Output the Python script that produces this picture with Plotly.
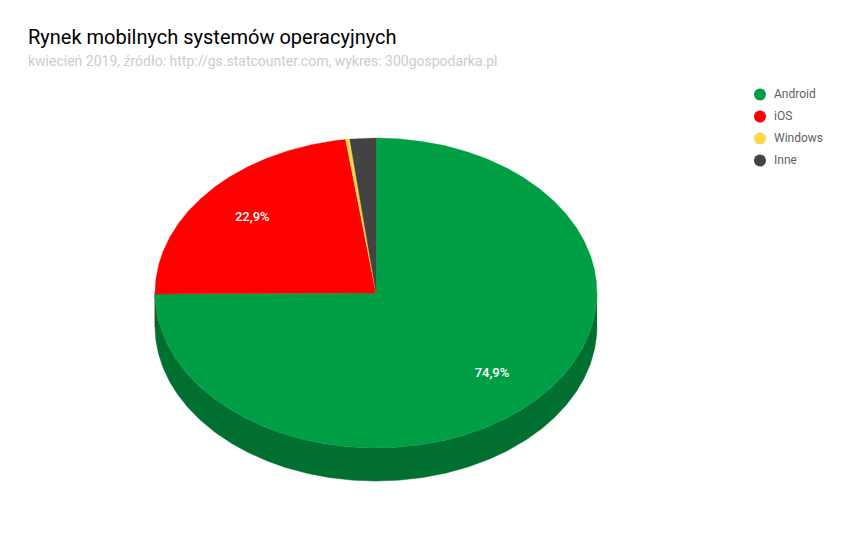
import numpy as np
import plotly.graph_objects as go

# market share, April 2019
labels = ['Android', 'iOS', 'Windows', 'Inne']
shares = [74.9, 22.9, 0.3, 1.9]
colors = ['#009f45', '#ff0000', '#ffd84a', '#434343']
side_colors = ['#006f30', '#b20000', '#b29728', '#2f2f2f']

# plot area works in page pixels, ellipse stands in for the tilted pie
cx, cy = 376, 293
rx, ry = 221, 155
depth = 33
font = 'Roboto'
# page body has an 8px margin, the axis ranges cancel it
page_margin = 8


def arc(start, end, drop=0):
    # angles in degrees, clockwise from 12 o'clock
    t = np.radians(np.linspace(start, end, max(int(abs(end - start) * 2), 2)))
    return cx + rx * np.sin(t), cy - ry * np.cos(t) + drop


fig = go.Figure()

edges = np.concatenate([[0], np.cumsum(shares)]) * 3.6

# side wall, only the front half of the rim shows
for i, label in enumerate(labels):
    start, end = max(edges[i], 90), min(edges[i + 1], 270)
    if end <= start:
        continue
    x_top, y_top = arc(start, end)
    x_low, y_low = arc(start, end, depth)
    fig.add_trace(go.Scatter(
        x=np.concatenate([x_top, x_low[::-1]]),
        y=np.concatenate([y_top, y_low[::-1]]),
        mode='lines',
        fill='toself',
        fillcolor=side_colors[i],
        line=dict(color=side_colors[i], width=0.5),
        hoverinfo='skip',
        showlegend=False
    ))

# top face
for i, label in enumerate(labels):
    x_arc, y_arc = arc(edges[i], edges[i + 1])
    fig.add_trace(go.Scatter(
        x=np.concatenate([[cx], x_arc, [cx]]),
        y=np.concatenate([[cy], y_arc, [cy]]),
        mode='lines',
        fill='toself',
        fillcolor=colors[i],
        line=dict(color=colors[i], width=0.3),
        name=label,
        text=f'{label}: {shares[i]}%'.replace('.', ','),
        hoverinfo='text',
        showlegend=False
    ))

# slice labels, small slices have none
mid = np.radians((edges[:-1] + edges[1:]) / 2)
big = [i for i, s in enumerate(shares) if s > 5]
fig.add_trace(go.Scatter(
    x=[cx + 0.74 * rx * np.sin(mid[i]) for i in big],
    y=[cy - 0.74 * ry * np.cos(mid[i]) for i in big],
    mode='text',
    text=[f'{shares[i]}%'.replace('.', ',') for i in big],
    textfont=dict(family=font, size=13, color='white', weight=500),
    hoverinfo='skip',
    showlegend=False
))

# legend
fig.add_trace(go.Scatter(
    x=[760] * len(labels),
    y=[94.5 + 22 * i for i in range(len(labels))],
    mode='markers',
    marker=dict(size=12, color=colors),
    hoverinfo='skip',
    showlegend=False
))
fig.add_trace(go.Scatter(
    x=[774] * len(labels),
    y=[95 + 22 * i for i in range(len(labels))],
    mode='text',
    text=labels,
    textposition='middle right',
    textfont=dict(family=font, size=12, color='#5f5f5f'),
    cliponaxis=False,
    hoverinfo='skip',
    showlegend=False
))

fig.update_layout(
    width=850,
    height=557,
    margin=dict(l=0, r=0, t=0, b=0),
    paper_bgcolor='white',
    plot_bgcolor='white',
    showlegend=False,
    xaxis=dict(range=[page_margin, 850 + page_margin], visible=False, fixedrange=True),
    yaxis=dict(range=[557 + page_margin, page_margin], visible=False, fixedrange=True),
    annotations=[
        dict(text='Rynek mobilnych systemów operacyjnych', xref='x', yref='y', x=26, y=37,
             xanchor='left', yanchor='middle', showarrow=False,
             font=dict(family=font, size=20, color='black')),
        dict(text='kwiecień 2019, źródło: http://gs.statcounter.com, wykres: 300gospodarka.pl',
             xref='x', yref='y', x=26, y=61, xanchor='left', yanchor='middle', showarrow=False,
             font=dict(family=font, size=14, color='#cccccc')),
    ]
)
fig.write_html("out.html")
